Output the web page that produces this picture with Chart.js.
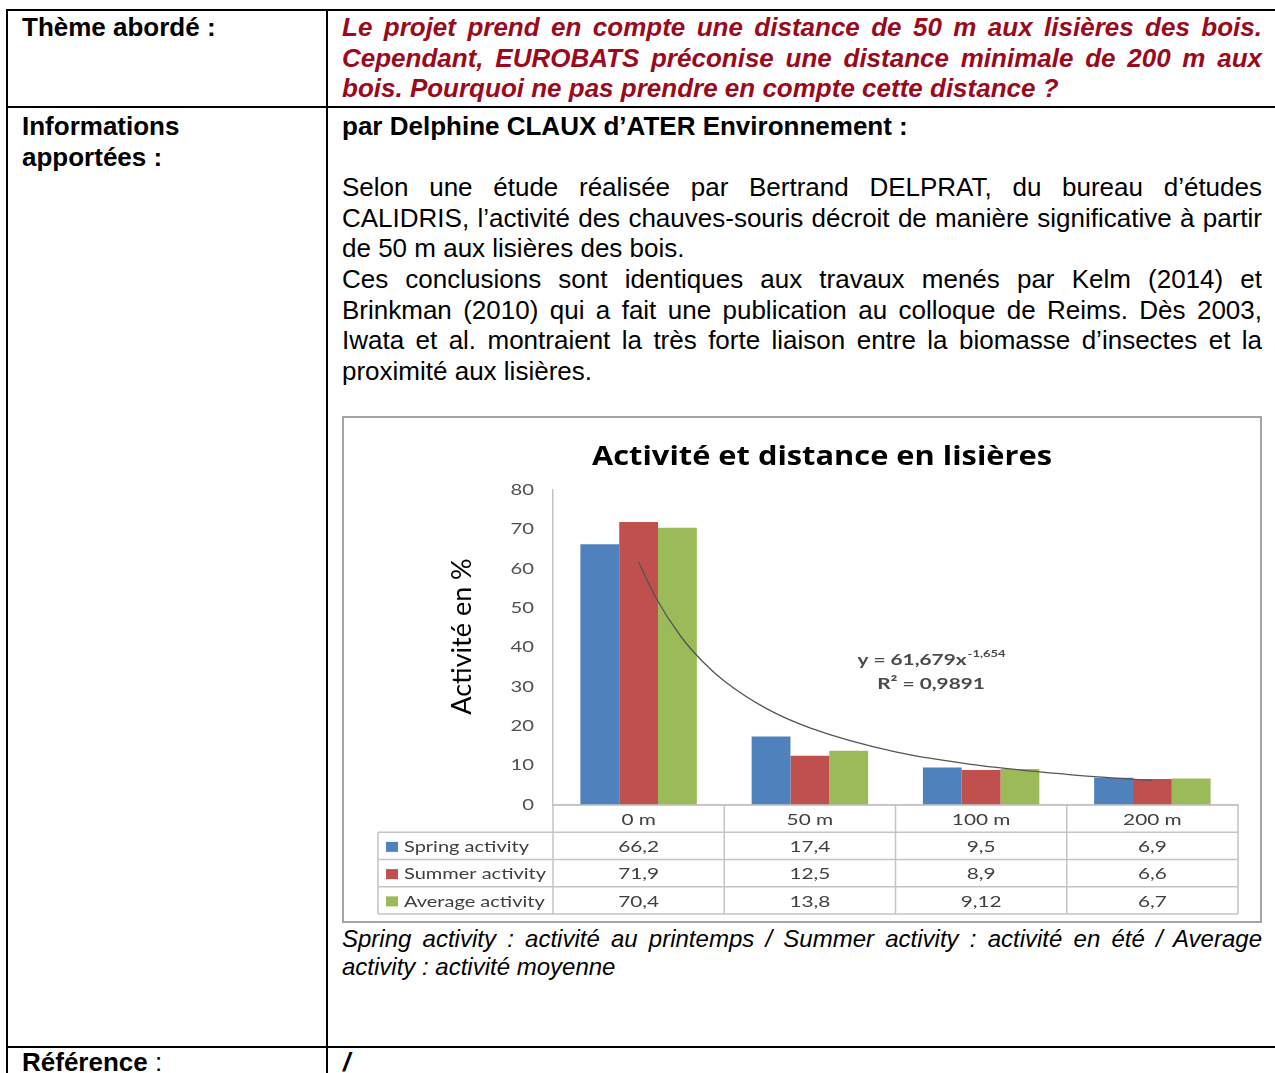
<!DOCTYPE html>
<html lang="fr">
<head>
<meta charset="utf-8">
<title>Activité et distance en lisières</title>
<script src="https://cdn.jsdelivr.net/npm/chart.js@4.4.1/dist/chart.umd.min.js"></script>
<style>
  html, body { margin: 0; padding: 0; background: #fff; }
  body { width: 1275px; height: 1073px; overflow: hidden; position: relative;
         font-family: "Liberation Sans", Arial, sans-serif; color: #000; }
  .ln { position: absolute; background: #000; }
  .txt { position: absolute; font-size: 26px; line-height: 30.6px; }
  .txt div { height: 30.6px; }
  .j { text-align: justify; text-align-last: justify; }
  .b { font-weight: bold; }
  .red { color: #9a0a1c; font-weight: bold; font-style: italic; }
  .cap { position: absolute; font-size: 24px; line-height: 28px; font-style: italic; }
  .cap div { height: 28px; }
  #chartBox { position: absolute; left: 342px; top: 416px; width: 920px; height: 507px;
              box-sizing: border-box; border: 2px solid #a4a4a4; background: #fff; }
  #chartBox canvas { display: block; }
</style>
</head>
<body>

<!-- lignes du tableau -->
<div class="ln" style="left:6px; top:9px; width:1269px; height:2px;"></div>
<div class="ln" style="left:6px; top:106px; width:1269px; height:2px;"></div>
<div class="ln" style="left:6px; top:1046px; width:1269px; height:2px;"></div>
<div class="ln" style="left:6px; top:9px; width:2px; height:1064px;"></div>
<div class="ln" style="left:326px; top:9px; width:2px; height:1064px;"></div>

<!-- ligne 1 -->
<div class="txt b" style="left:22px; top:12px;"><div>Thème abordé :</div></div>
<div class="txt red" style="left:342px; top:12px; width:920px;">
  <div class="j">Le projet prend en compte une distance de 50 m aux lisières des bois.</div>
  <div class="j">Cependant, EUROBATS préconise une distance minimale de 200 m aux</div>
  <div>bois. Pourquoi ne pas prendre en compte cette distance ?</div>
</div>

<!-- ligne 2 -->
<div class="txt b" style="left:22px; top:111px;"><div>Informations</div><div>apportées :</div></div>
<div class="txt" style="left:342px; top:111px; width:920px;">
  <div class="b">par Delphine CLAUX d’ATER Environnement :</div>
  <div></div>
  <div class="j">Selon une étude réalisée par Bertrand DELPRAT, du bureau d’études</div>
  <div class="j">CALIDRIS, l’activité des chauves-souris décroit de manière significative à partir</div>
  <div>de 50 m aux lisières des bois.</div>
  <div class="j">Ces conclusions sont identiques aux travaux menés par Kelm (2014) et</div>
  <div class="j">Brinkman (2010) qui a fait une publication au colloque de Reims. Dès 2003,</div>
  <div class="j">Iwata et al. montraient la très forte liaison entre la biomasse d’insectes et la</div>
  <div>proximité aux lisières.</div>
</div>

<div id="chartBox"><canvas id="chart" width="916" height="503"></canvas></div>

<div class="cap" style="left:342px; top:925px; width:920px;">
  <div class="j">Spring activity : activité au printemps / Summer activity : activité en été / Average</div>
  <div>activity : activité moyenne</div>
</div>

<!-- ligne 3 -->
<div class="txt" style="left:22px; top:1047px;"><div><span class="b">Référence</span> :</div></div>
<div class="txt" style="left:343px; top:1047px;"><div class="b" style="font-style:italic;">/</div></div>

<script>
// données
const categories = ['0 m', '50 m', '100 m', '200 m'];
const seriesNames = ['Spring activity', 'Summer activity', 'Average activity'];
const springActivity = [66.2, 17.4, 9.5, 6.9];
const summerActivity = [71.9, 12.5, 8.9, 6.6];
const averageActivity = [70.4, 13.8, 9.12, 6.7];
const seriesColors = ['#4f81bd', '#c0504d', '#9bbb59'];

// courbe de tendance (puissance), x = index de catégorie
const trendX = [0, 0.1, 0.25, 0.375, 0.5, 0.75, 1, 1.5, 2, 2.5, 3];
const trendY = [61.7, 52.7, 42.6, 36.4, 31.5, 24.4, 19.6, 13.5, 10.0, 7.8, 6.2];
const trendEquation = 'y = 61,679x';
const trendExponent = '-1,654';
const trendR2 = 'R² = 0,9891';

const yMin = 0, yMax = 80, yStep = 10;
const chartTitle = 'Activité et distance en lisières';
const yTitle = 'Activité en %';

const SX = 1.3; // l'image d'origine est étirée en largeur

const fmt = v => String(v).replace('.', ',');
const toPoints = vals => vals.map((v, i) => ({ x: i, y: v }));

function stretchText(ctx, text, x, y, align, font, color, sx) {
    ctx.save();
    ctx.font = font;
    ctx.fillStyle = color;
    ctx.textBaseline = 'middle';
    ctx.textAlign = 'left';
    const w = ctx.measureText(text).width * sx;
    const x0 = align === 'center' ? x - w / 2 : (align === 'right' ? x - w : x);
    ctx.translate(x0, y);
    ctx.scale(sx, 1);
    ctx.fillText(text, 0, 0);
    ctx.restore();
    return w;
}

// titre, graduations, titre d'axe, équation et tableau de données
const extras = {
    id: 'extras',
    afterDraw(chart) {
        const ctx = chart.ctx;
        const x = chart.scales.x;
        const y = chart.scales.y;

        // titre : largeur calée sur l'image (≈460 px)
        const titleFont = 'bold 27px "Open Sans"';
        ctx.save();
        ctx.font = titleFont;
        const tw = ctx.measureText(chartTitle).width;
        ctx.restore();
        stretchText(ctx, chartTitle, 478, 39, 'center', titleFont, '#000', 460 / tw);

        y.ticks.forEach(t => {
            stretchText(ctx, String(t.value), y.right - 19, y.getPixelForValue(t.value), 'right',
                        '15px Lato', '#505050', 1.35);
        });

        ctx.save();
        ctx.translate(118, (y.top + y.bottom) / 2 - 11);
        ctx.rotate(-Math.PI / 2);
        ctx.font = '27px Lato';
        ctx.fillStyle = '#000';
        ctx.textAlign = 'center';
        ctx.textBaseline = 'middle';
        ctx.fillText(yTitle, 0, 0);
        ctx.restore();

        // équation de la tendance
        ctx.save();
        ctx.font = 'bold 16px Lato';
        const w1 = ctx.measureText(trendEquation).width * SX;
        ctx.font = 'bold 10px Lato';
        const w2 = ctx.measureText(trendExponent).width * SX;
        ctx.restore();
        const ex = 587 - (w1 + w2) / 2;
        stretchText(ctx, trendEquation, ex, 242, 'left', 'bold 16px Lato', '#4a4a4a', SX);
        stretchText(ctx, trendExponent, ex + w1 + 1, 236, 'left', 'bold 10px Lato', '#4a4a4a', SX);
        stretchText(ctx, trendR2, 587, 266, 'center', 'bold 16px Lato', '#4a4a4a', SX);

        // tableau sous le graphique
        const left = x.left, right = x.right, top = x.top;
        const colW = (right - left) / categories.length;
        const rowH = 27.25;
        const legLeft = left - 175;
        const rows = [springActivity, summerActivity, averageActivity];

        ctx.save();
        ctx.strokeStyle = '#c4c4c4';
        ctx.lineWidth = 1.5;
        ctx.beginPath();
        ctx.moveTo(left, top); ctx.lineTo(right, top);
        for (let r = 1; r <= 4; r++) {
            ctx.moveTo(legLeft, top + r * rowH); ctx.lineTo(right, top + r * rowH);
        }
        for (let i = 0; i <= categories.length; i++) {
            ctx.moveTo(left + i * colW, top); ctx.lineTo(left + i * colW, top + 4 * rowH);
        }
        ctx.moveTo(legLeft, top + rowH); ctx.lineTo(legLeft, top + 4 * rowH);
        ctx.stroke();
        ctx.restore();

        const font = '16px Lato', col = '#3f3f3f';
        categories.forEach((c, i) => {
            stretchText(ctx, c, x.getPixelForValue(i), top + rowH / 2 + 1, 'center', font, col, SX);
        });
        rows.forEach((vals, r) => {
            const cy = top + (r + 1.5) * rowH + 1;
            ctx.fillStyle = seriesColors[r];
            ctx.fillRect(legLeft + 8, cy - 5, 12, 10);
            stretchText(ctx, seriesNames[r], legLeft + 26, cy, 'left', font, col, 1.25);
            vals.forEach((v, i) => {
                stretchText(ctx, fmt(v), x.getPixelForValue(i), cy, 'center', font, col, SX);
            });
        });
    }
};

new Chart(document.getElementById('chart'), {
    type: 'bar',
    data: {
        datasets: [
            {
                type: 'line', label: 'Tendance',
                data: trendX.map((v, i) => ({ x: v, y: trendY[i] })),
                borderColor: '#555', borderWidth: 1.3, pointRadius: 0,
                cubicInterpolationMode: 'monotone', fill: false
            },
            { label: seriesNames[0], data: toPoints(springActivity), backgroundColor: seriesColors[0] },
            { label: seriesNames[1], data: toPoints(summerActivity), backgroundColor: seriesColors[1] },
            { label: seriesNames[2], data: toPoints(averageActivity), backgroundColor: seriesColors[2] }
        ]
    },
    options: {
        responsive: false,
        animation: false,
        datasets: { bar: { categoryPercentage: 0.68, barPercentage: 1.0, grouped: true } },
        layout: { padding: { left: 0, right: 22, top: 72, bottom: 0 } },
        plugins: { legend: { display: false }, tooltip: { enabled: false }, title: { display: false } },
        scales: {
            x: {
                type: 'linear', min: -0.5, max: 3.5, offset: false,
                afterBuildTicks(s) { s.ticks = categories.map((c, i) => ({ value: i })); },
                grid: { display: false, drawTicks: false },
                border: { display: true, color: '#c4c4c4', width: 1.5 },
                ticks: { display: false },
                afterFit(s) { s.height = 116; }
            },
            y: {
                min: yMin, max: yMax,
                ticks: { stepSize: yStep, display: false },
                grid: { display: false, drawTicks: false },
                border: { display: true, color: '#c4c4c4', width: 1.5 },
                afterFit(s) { s.width = 209; }
            }
        }
    },
    plugins: [extras]
});
</script>
</body>
</html>
